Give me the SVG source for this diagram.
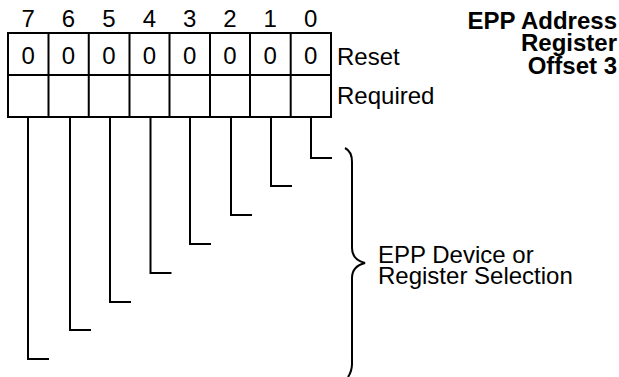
<svg xmlns="http://www.w3.org/2000/svg" width="619" height="377" viewBox="0 0 619 377">
<style>
.ln{fill:none;stroke:#000;stroke-width:2;stroke-linecap:square}
.t{font-family:"Liberation Sans",Arial,sans-serif;font-size:24px;fill:#000}
.c{text-anchor:middle}
.b{font-weight:bold;text-anchor:end}
</style>
<rect width="619" height="377" fill="#fff"/>
<g id="register">
<rect class="ln" x="8" y="33" width="323" height="84"/>
<line class="ln" x1="8" y1="75" x2="331" y2="75"/>
<path class="ln" d="M48.5,33V117M88.75,33V117M129.5,33V117M169.5,33V117M210,33V117M250,33V117M290.7,33V117"/>
</g>
<g id="bit-numbers" class="t c">
<text x="28.2" y="27">7</text>
<text x="68.5" y="27">6</text>
<text x="109" y="27">5</text>
<text x="149.5" y="27">4</text>
<text x="189.7" y="27">3</text>
<text x="230" y="27">2</text>
<text x="270.3" y="27">1</text>
<text x="310.8" y="27">0</text>
</g>
<g id="reset-values" class="t c">
<text x="28.2" y="64">0</text>
<text x="68.5" y="64">0</text>
<text x="109" y="64">0</text>
<text x="149.5" y="64">0</text>
<text x="189.7" y="64">0</text>
<text x="230" y="64">0</text>
<text x="270.3" y="64">0</text>
<text x="310.8" y="64">0</text>
</g>
<g id="row-labels" class="t">
<text x="337" y="65">Reset</text>
<text x="337" y="104">Required</text>
</g>
<g id="title" class="t b">
<text x="617" y="29">EPP Address</text>
<text x="617" y="51">Register</text>
<text x="617" y="74">Offset 3</text>
</g>
<g id="connectors">
<path class="ln" d="M311,117V158H331"/>
<path class="ln" d="M271,117V186H291"/>
<path class="ln" d="M231,117V215H251"/>
<path class="ln" d="M190,117V244H210"/>
<path class="ln" d="M150.5,117V273H170.5"/>
<path class="ln" d="M110,117V302H130"/>
<path class="ln" d="M70,117V330H90"/>
<path class="ln" d="M28,117V359H48"/>
</g>
<g id="brace">
<path fill="none" stroke="#000" stroke-width="2" d="M345,148C349,150 352,154 352,162L352,248C352,256 357,261 365,263C357,265 352,270 352,278L352,364C352,370 350,374 348,377"/>
</g>
<g id="selection-label" class="t">
<text x="378" y="263">EPP Device or</text>
<text x="378" y="284">Register Selection</text>
</g>
</svg>
